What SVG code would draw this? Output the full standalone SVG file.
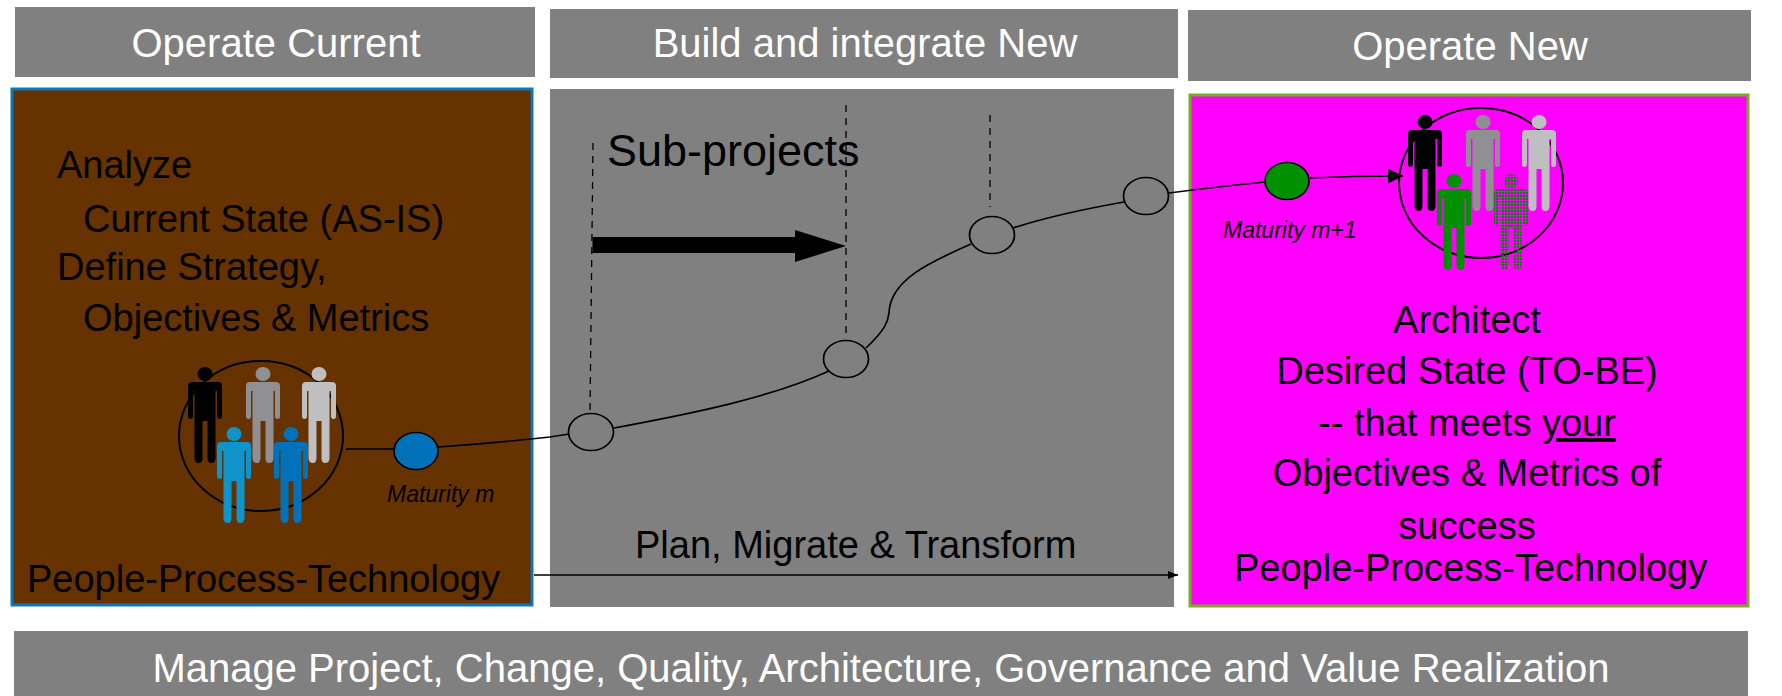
<svg xmlns="http://www.w3.org/2000/svg" width="1782" height="696" viewBox="0 0 1782 696">
<style>
text{font-family:"Liberation Sans",Arial,sans-serif;fill:#000}
.h{fill:#808080}
.ht{fill:#fff;font-size:40px;text-anchor:middle}
.b{font-size:38px}
.m{font-size:23px;font-style:italic}
.c{fill:#808080;stroke:#000;stroke-width:1.7}
.l{fill:none;stroke:#000;stroke-width:1.7}
.d{fill:none;stroke:#000;stroke-width:1.3;stroke-dasharray:7 6}
.r{fill:none;stroke:#000;stroke-width:2}
</style>
<defs>
<g id="p"><ellipse cx="0" cy="7" rx="7.5" ry="7"/><path d="M-13,15H13Q17,15 17,19V49Q17,52 14.5,52Q12,52 12,49V24H10.5V91Q10.5,96 6,96Q2.5,96 2.5,91V54H-2.5V91Q-2.5,96 -6,96Q-10.5,96 -10.5,91V24H-12V49Q-12,52 -14.5,52Q-17,52 -17,49V19Q-17,15 -13,15Z"/></g>
<pattern id="dots" width="3" height="3" patternUnits="userSpaceOnUse"><rect width="2.2" height="2.2" fill="#0a7d0a"/></pattern>
<marker id="a" markerUnits="userSpaceOnUse" markerWidth="16" markerHeight="16" refX="15" refY="7.5" orient="auto"><path d="M0,0L15,7.5L0,15Z"/></marker>
<marker id="s" markerUnits="userSpaceOnUse" markerWidth="11" markerHeight="9" refX="10" refY="4" orient="auto"><path d="M0,0L10,4L0,8Z"/></marker>
</defs>
<g id="header-current"><rect class="h" x="15" y="7" width="520" height="70"/><text class="ht" x="276" y="57">Operate Current</text></g>
<g id="header-build"><rect class="h" x="550" y="9" width="628" height="69"/><text class="ht" x="865" y="57">Build and integrate New</text></g>
<g id="header-new"><rect class="h" x="1188" y="10" width="563" height="71"/><text class="ht" x="1470" y="60">Operate New</text></g>
<g id="footer"><rect class="h" x="14" y="631" width="1734" height="65"/><text class="ht" x="881" y="682">Manage Project, Change, Quality, Architecture, Governance and Value Realization</text></g>
<g id="box-current"><rect x="12" y="89" width="520" height="516" fill="#663300" stroke="#0f76b8" stroke-width="3"/></g>
<g id="box-build"><rect x="550" y="89" width="624" height="518" fill="#808080"/></g>
<g id="box-new"><rect x="1190" y="95" width="558" height="511" fill="#ff00ff" stroke="#76b01e" stroke-width="3"/></g>
<g id="connectors">
<path class="d" d="M593,143L590,412"/><path class="d" d="M846,105V338"/><path class="d" d="M990,115V207"/>
<path d="M592.5,237H795V230L846,246L795,262V253H592.5Z"/>
<path class="l" d="M346,449H394"/>
<path class="l" d="M438,447Q495,443 550,437L569,434"/>
<path class="l" d="M614,428C690,414 770,398 829,371"/>
<path class="l" d="M866,348C885,330 888,322 889,313C890,280 930,262 971,244"/>
<path class="l" d="M1013,228C1050,216 1090,208 1124,202"/>
<path class="l" d="M1169,193Q1215,187 1265,182"/>
<path class="l" d="M1310,178Q1350,176 1403,176" marker-end="url(#a)"/>
<path class="l" d="M534,575H1178" marker-end="url(#s)"/>
</g>
<g id="node-1"><ellipse class="c" cx="591" cy="432" rx="22.5" ry="18.5"/></g>
<g id="node-2"><ellipse class="c" cx="846" cy="359" rx="22.5" ry="18.5"/></g>
<g id="node-3"><ellipse class="c" cx="992" cy="235" rx="22.5" ry="18.5"/></g>
<g id="node-4"><ellipse class="c" cx="1146" cy="196" rx="22.5" ry="18.5"/></g>
<g id="maturity-m"><ellipse cx="416" cy="451" rx="22" ry="18.5" fill="#0070b8" stroke="#000" stroke-width="1.7"/><text class="m" x="387" y="502">Maturity m</text></g>
<g id="maturity-m1"><ellipse cx="1287" cy="181" rx="22" ry="18.5" fill="#009000" stroke="#000" stroke-width="1.7"/><text class="m" x="1223" y="238">Maturity m+1</text></g>
<g id="team-current"><ellipse class="r" cx="261" cy="436" rx="82" ry="75"/>
<use href="#p" x="205" y="367" fill="#000"/><use href="#p" x="263" y="367" fill="#909094"/><use href="#p" x="319" y="367" fill="#bfbfc2"/><use href="#p" x="234" y="427" fill="#0e94c9"/><use href="#p" x="291" y="427" fill="#0072ba"/></g>
<g id="team-new"><ellipse class="r" cx="1481" cy="183" rx="82" ry="75"/>
<use href="#p" x="1425" y="115" fill="#000"/><use href="#p" x="1483" y="115" fill="#909094"/><use href="#p" x="1539" y="115" fill="#bfbfc2"/><use href="#p" x="1454" y="174" fill="#009000"/><use href="#p" x="1511" y="174" fill="url(#dots)"/></g>
<g id="text-current"><text class="b" x="57" y="178">Analyze</text><text class="b" x="83" y="232">Current State (AS-IS)</text><text class="b" x="57" y="280">Define Strategy,</text><text class="b" x="83" y="331">Objectives &amp; Metrics</text><text class="b" x="27" y="592">People-Process-Technology</text></g>
<g id="text-build"><text x="607" y="166" font-size="45">Sub-projects</text><text class="b" x="635" y="558">Plan, Migrate &amp; Transform</text></g>
<g id="text-new"><text class="b" x="1467" y="333" text-anchor="middle">Architect</text><text class="b" x="1467" y="384" text-anchor="middle">Desired State (TO-BE)</text><text class="b" x="1467" y="436" text-anchor="middle">-- that meets <tspan text-decoration="underline">your</tspan></text><text class="b" x="1467" y="486" text-anchor="middle">Objectives &amp; Metrics of</text><text class="b" x="1467" y="539" text-anchor="middle">success</text><text class="b" x="1234" y="581">People-Process-Technology</text></g>
</svg>
